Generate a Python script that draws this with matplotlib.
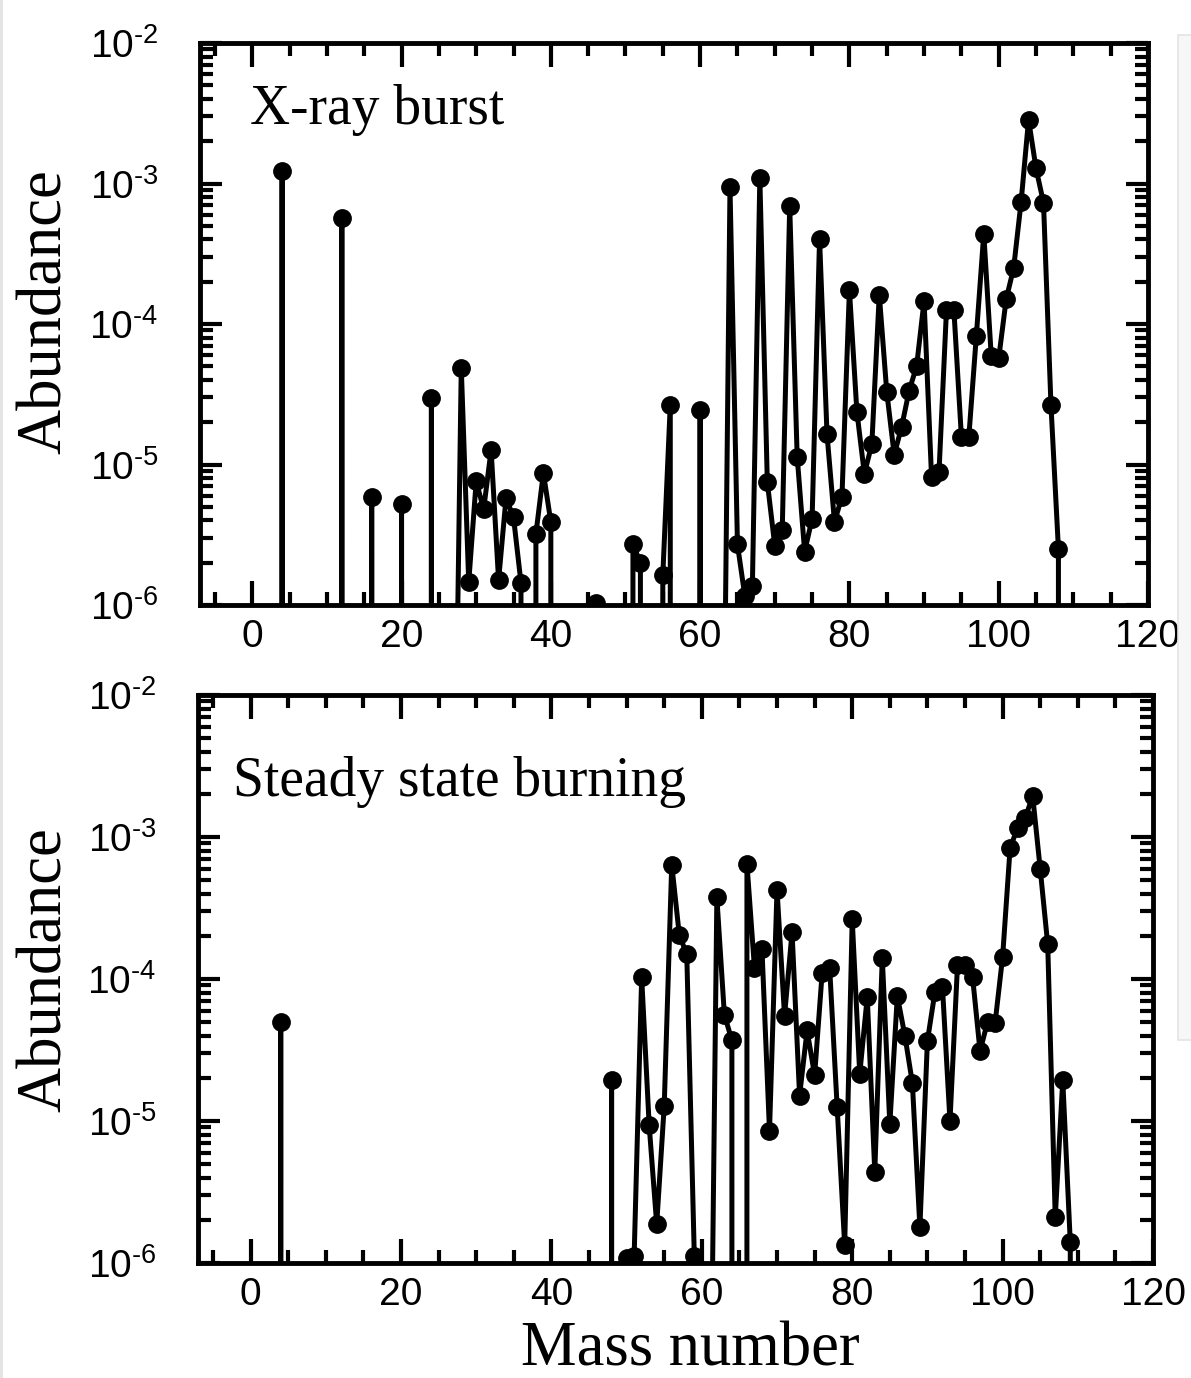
import numpy as np
import matplotlib
matplotlib.use("Agg")
import matplotlib.pyplot as plt
from matplotlib.patches import Rectangle
from matplotlib.ticker import LogLocator, MultipleLocator, FuncFormatter

plt.rcParams['font.family'] = ['Liberation Sans', 'DejaVu Sans']
plt.rcParams['mathtext.fontset'] = 'custom'
plt.rcParams['mathtext.rm'] = 'Liberation Sans'
plt.rcParams['axes.unicode_minus'] = False

serif = ['Liberation Serif', 'DejaVu Serif']

# mass numbers A = 1..110, abundance 0 where nothing is produced
mass = list(range(1, 111))

xrb_abund = [
    0, 0, 0, 1.22e-3, 0, 0, 0, 0, 0, 0,                                         # 1-10
    0, 5.7e-4, 0, 0, 0, 5.9e-6, 0, 0, 0, 5.2e-6,                                # 11-20
    0, 0, 0, 2.95e-5, 0, 0, 1e-8, 4.9e-5, 1.45e-6, 7.6e-6,                      # 21-30
    4.8e-6, 1.27e-5, 1.5e-6, 5.8e-6, 4.2e-6, 1.44e-6, 0, 3.2e-6, 8.7e-6, 3.9e-6,  # 31-40
    0, 0, 0, 0, 0, 1.03e-6, 0, 0, 0, 0,                                         # 41-50
    2.7e-6, 2.0e-6, 0, 0, 1.63e-6, 2.65e-5, 0, 0, 0, 2.45e-5,                   # 51-60
    0, 0, 1e-8, 9.4e-4, 2.7e-6, 1.15e-6, 1.37e-6, 1.1e-3, 7.5e-6, 2.65e-6,      # 61-70
    3.4e-6, 6.9e-4, 1.14e-5, 2.4e-6, 4.1e-6, 4.05e-4, 1.64e-5, 3.9e-6, 5.9e-6, 1.75e-4,   # 71-80
    2.38e-5, 8.6e-6, 1.39e-5, 1.62e-4, 3.3e-5, 1.17e-5, 1.86e-5, 3.35e-5, 5.0e-5, 1.46e-4,  # 81-90
    8.2e-6, 8.8e-6, 1.25e-4, 1.25e-4, 1.58e-5, 1.58e-5, 8.2e-5, 4.4e-4, 5.9e-5, 5.7e-5,    # 91-100
    1.5e-4, 2.5e-4, 7.4e-4, 2.85e-3, 1.28e-3, 7.3e-4, 2.65e-5, 2.5e-6, 0, 0,   # 101-110
]

steady_abund = [
    0, 0, 0, 5.0e-5, 0, 0, 0, 0, 0, 0,                                          # 1-10
    0, 0, 0, 0, 0, 0, 0, 0, 0, 0,                                               # 11-20
    0, 0, 0, 0, 0, 0, 0, 0, 0, 0,                                               # 21-30
    0, 0, 0, 0, 0, 0, 0, 0, 0, 0,                                               # 31-40
    0, 0, 0, 0, 0, 0, 0, 1.95e-5, 0, 1.08e-6,                                   # 41-50
    1.12e-6, 1.03e-4, 9.3e-6, 1.87e-6, 1.28e-5, 6.4e-4, 2.05e-4, 1.49e-4, 1.12e-6, 0,  # 51-60
    1e-8, 3.75e-4, 5.6e-5, 3.7e-5, 0, 6.5e-4, 1.2e-4, 1.62e-4, 8.5e-6, 4.25e-4,   # 61-70
    5.5e-5, 2.14e-4, 1.51e-5, 4.35e-5, 2.1e-5, 1.1e-4, 1.2e-4, 1.25e-5, 1.33e-6, 2.63e-4,  # 71-80
    2.14e-5, 7.5e-5, 4.4e-6, 1.41e-4, 9.5e-6, 7.6e-5, 4.0e-5, 1.85e-5, 1.78e-6, 3.66e-5,   # 81-90
    8.1e-5, 8.8e-5, 1.0e-5, 1.25e-4, 1.25e-4, 1.04e-4, 3.1e-5, 5.0e-5, 4.9e-5, 1.43e-4,    # 91-100
    8.4e-4, 1.16e-3, 1.36e-3, 1.94e-3, 5.96e-4, 1.75e-4, 2.1e-6, 1.94e-5, 1.4e-6, 0,       # 101-110
]

W, H = 1191, 1378


def main():
    fig = plt.figure(figsize=(W / 100, H / 100), dpi=100)

    # light window edges around the figure
    fig.add_artist(Rectangle((0, 0), 3 / W, 1, transform=fig.transFigure,
                             facecolor='#e4e4e4', lw=0))
    fig.add_artist(Rectangle((1178 / W, 1 - 1040 / H), 20 / W, 1005 / H,
                             transform=fig.transFigure, facecolor='#f7f7f7',
                             edgecolor='#e4e4e4', lw=1.2))

    ax1 = fig.add_axes([200 / W, 1 - 605 / H, 948 / W, 562 / H])
    ax2 = fig.add_axes([198 / W, 1 - 1263 / H, 955 / W, 568 / H])

    abundPanel(ax1, xrb_abund, "X-ray burst", (0.053, 0.856))
    abundPanel(ax2, steady_abund, "Steady state burning", (0.037, 0.822))

    fig.text(46 / W, 1 - 312 / H, "Abundance", rotation=90, ha='center',
             va='center', family=serif, fontsize=45)
    fig.text(46 / W, 1 - 970 / H, "Abundance", rotation=90, ha='center',
             va='center', family=serif, fontsize=45)
    fig.text(690 / W, 1 - 1350 / H, "Mass number", ha='center', va='center',
             family=serif, fontsize=45)

    fig.savefig('out.png', dpi=100)


def decadeLabel(v, pos):
    e = int(round(np.log10(v)))
    return r'$\mathdefault{10^{\text{-}%d}}$' % (-e)


def abundPanel(ax, abund, title, pos):
    ax.plot(mass, abund, color='black', linewidth=3.6, marker='o',
            markersize=12.5, solid_joinstyle='round')
    ax.set_yscale('log')
    ax.set_xlim(-7, 120)
    ax.set_ylim(1e-6, 1e-2)

    ax.xaxis.set_major_locator(MultipleLocator(20))
    ax.xaxis.set_minor_locator(MultipleLocator(5))
    ax.yaxis.set_major_locator(LogLocator(base=10))
    ax.yaxis.set_minor_locator(LogLocator(base=10, subs=np.arange(2, 10)))
    ax.yaxis.set_major_formatter(FuncFormatter(decadeLabel))

    ax.tick_params(which='both', direction='in', top=True, right=True,
                   width=3, labelsize=28)
    ax.tick_params(which='major', length=16)
    ax.tick_params(which='minor', length=9.5)
    ax.tick_params(axis='x', which='major', length=17, pad=10)
    ax.tick_params(axis='y', which='major', pad=30)
    for s in ax.spines.values():
        s.set_linewidth(3.5)

    ax.text(pos[0], pos[1], title, transform=ax.transAxes, family=serif,
            fontsize=40, ha='left', va='baseline')


if __name__ == '__main__':
    main()
